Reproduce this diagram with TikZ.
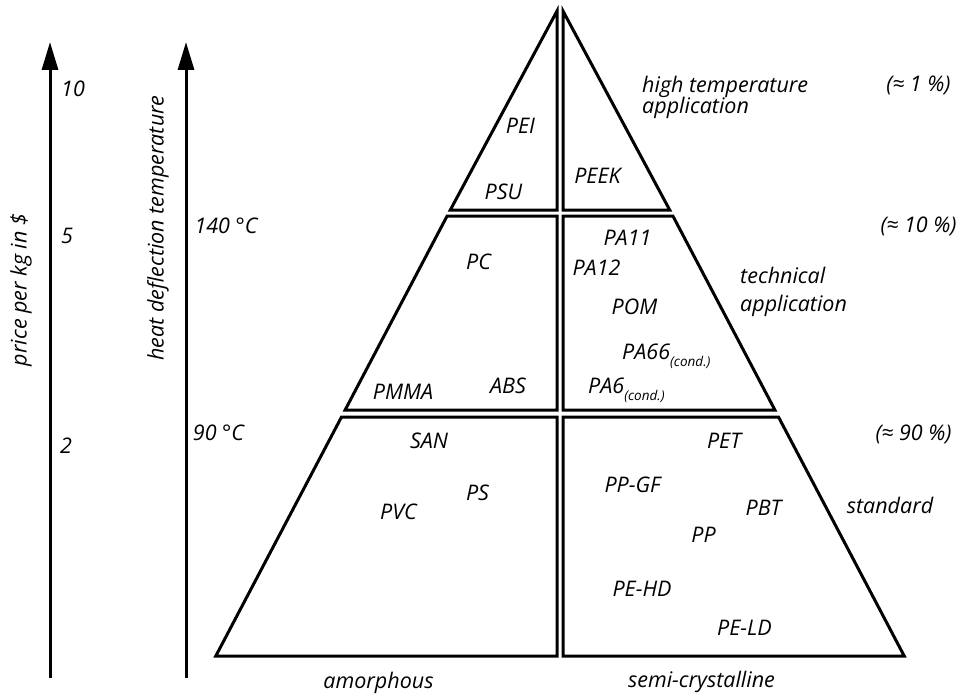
\documentclass[tikz,border=0pt]{standalone}
\usepackage{fontspec}
\setmainfont{Open Sans}
\usetikzlibrary{arrows.meta}
\tikzset{
  piece/.style={draw=black, line width=3pt, line join=miter},
  axisarrow/.style={draw=black, line width=3pt, -{Triangle[length=28pt,width=16pt]}},
  lbl/.style={inner sep=0pt, anchor=base, font=\fontsize{21.5}{21.5}\selectfont\itshape},
  lblw/.style={lbl, anchor=base west},
  vlbl/.style={inner sep=0pt, anchor=center, rotate=90, font=\fontsize{21.5}{21.5}\selectfont\itshape}
}
\newcommand{\condsub}{\raisebox{-7pt}{\fontsize{13.5}{13.5}\selectfont(cond.)}}
\begin{document}
\begin{tikzpicture}[x=1pt,y=-1pt]
\useasboundingbox (0,0) rectangle (968,695);
% pyramid pieces
\draw[piece] (557,11) -- (557,210) -- (450.3,210) -- cycle;
\draw[piece] (563,11) -- (563,210) -- (669.7,210) -- cycle;
\draw[piece] (447.1,216) -- (557,216) -- (557,410) -- (345.1,410) -- cycle;
\draw[piece] (563,216) -- (672.9,216) -- (774.9,410) -- (563,410) -- cycle;
\draw[piece] (341.5,417) -- (557,417) -- (557,656) -- (215.8,656) -- cycle;
\draw[piece] (563,417) -- (778.5,417) -- (904.2,656) -- (563,656) -- cycle;
% axes
\coordinate (pbot) at (50,678);
\coordinate (ptop) at (50,42);
\coordinate (hbot) at (186,678);
\coordinate (htop) at (186,42);
\draw[axisarrow] (pbot) -- (ptop);
\draw[axisarrow] (hbot) -- (htop);
\node[vlbl] (pricelbl) at (21,290) {price per kg in \$};
\node[vlbl] (heatlbl) at (158,228) {heat deflection temperature};
\node[lbl] (p10) at (73,97) {10};
\node[lbl] (p5) at (67,243) {5};
\node[lbl] (p2) at (66,453) {2};
\node[lbl] (t140) at (226,233) {140 °C};
\node[lbl] (t90) at (218.5,440) {90 °C};
% right side
\node[lblw] (high1) at (642,93) {high temperature};
\node[lblw] (high2) at (642,114) {application};
\node[lblw] (tech1) at (740,283) {technical};
\node[lblw] (tech2) at (740,311) {application};
\node[lbl] (stdl) at (890,513) {standard};
\node[lbl] (pc1) at (918.5,92) {(≈ 1 \%)};
\node[lbl] (pc10) at (918.5,232) {(≈ 10 \%)};
\node[lbl] (pc90) at (913.5,440) {(≈ 90 \%)};
% top tier
\node[lbl] (pei) at (520.5,134) {PEI};
\node[lbl] (psu) at (503.5,199) {PSU};
\node[lbl] (peek) at (597.5,183) {PEEK};
% middle tier
\node[lbl] (pcm) at (478.5,269) {PC};
\node[lbl] (pa11) at (627.5,245) {PA11};
\node[lbl] (pa12) at (596.5,275) {PA12};
\node[lbl] (pom) at (634.5,314) {POM};
\node[lblw] (pa66) at (622,359) {PA66\condsub};
\node[lblw] (pa6) at (588,393) {PA6\condsub};
\node[lbl] (pmma) at (403,399) {PMMA};
\node[lbl] (abs) at (508,393) {ABS};
% bottom tier
\node[lbl] (san) at (429,448) {SAN};
\node[lbl] (ps) at (477.5,500) {PS};
\node[lbl] (pvc) at (398.5,519) {PVC};
\node[lbl] (pet) at (724,448) {PET};
\node[lbl] (ppgf) at (632.5,492) {PP-GF};
\node[lbl] (pbt) at (763.5,515) {PBT};
\node[lbl] (pp) at (703.5,542) {PP};
\node[lbl] (pehd) at (642,596) {PE-HD};
\node[lbl] (peld) at (744.5,635) {PE-LD};
% bottom labels
\node[lbl] (amor) at (378.5,688) {amorphous};
\node[lbl] (semi) at (701.5,687) {semi-crystalline};
\end{tikzpicture}
\end{document}
